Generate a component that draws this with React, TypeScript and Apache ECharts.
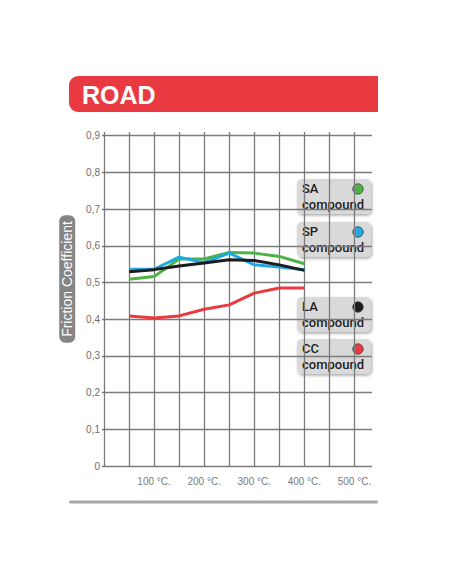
import React, { useEffect, useRef } from "react";
import * as echarts from "echarts";

const temps = [50, 100, 150, 200, 250, 300, 350, 400];
const saValues = [0.509, 0.516, 0.564, 0.564, 0.582, 0.58, 0.571, 0.551];
const spValues = [0.536, 0.536, 0.569, 0.554, 0.58, 0.548, 0.542, 0.535];
const laValues = [0.529, 0.535, 0.545, 0.553, 0.562, 0.56, 0.548, 0.533];
const ccValues = [0.409, 0.403, 0.409, 0.427, 0.439, 0.471, 0.485, 0.485];

const seriesNames = ["SA", "SP", "LA", "CC"];
const seriesColors = ["#4db244", "#1ea8e4", "#1c1c1c", "#e83a3f"];
const yTickLabels = ["0", "0,1", "0,2", "0,3", "0,4", "0,5", "0,6", "0,7", "0,8", "0,9"];
const xUnit = "°C.";
const titleText = "ROAD";
const yAxisTitle = "Friction Coefficient";
const legendSub = "compound";

const FONT = "'Liberation Sans', Arial, Helvetica, sans-serif";
const LEGEND_FONT = "Roboto, 'Liberation Sans', Arial, sans-serif";

export default function App() {
  const ref = useRef<HTMLDivElement>(null);

  useEffect(() => {
    if (!ref.current) return;
    const chart = echarts.init(ref.current, undefined, { renderer: "svg" });
    const allValues = [saValues, spValues, laValues, ccValues];
    const gridColor = "#7b7b7b";

    const legendTops = [179, 222, 297, 339];
    const legendGraphics = seriesNames.map((name, i) => ({
      type: "group",
      x: 297,
      y: legendTops[i],
      children: [
        {
          type: "rect",
          shape: { x: 0, y: 0, width: 74, height: 35, r: 5 },
          style: {
            fill: "#d9d9d9",
            shadowBlur: 3,
            shadowOffsetX: 1,
            shadowOffsetY: 1.5,
            shadowColor: "rgba(0,0,0,0.35)",
          },
        },
        {
          type: "text",
          x: 5,
          y: 9.5,
          style: {
            text: name,
            fill: "#1e1e1e",
            font: `500 13px ${LEGEND_FONT}`,
            verticalAlign: "middle",
            align: "left",
          },
        },
        {
          type: "text",
          x: 5,
          y: 25,
          style: {
            text: legendSub,
            fill: "#1e1e1e",
            font: `500 13px ${LEGEND_FONT}`,
            verticalAlign: "middle",
            align: "left",
          },
        },
        {
          type: "circle",
          shape: { cx: 61, cy: 10, r: 5.2 },
          style: { fill: seriesColors[i], stroke: "#3a3a3a", lineWidth: 0.8 },
        },
      ],
    }));

    chart.setOption({
      animation: false,
      textStyle: { fontFamily: FONT },
      grid: { left: 104, top: 132, width: 268, height: 334, containLabel: false },
      xAxis: {
        type: "value",
        min: 0,
        max: 535,
        interval: 50,
        axisLine: { show: false },
        axisTick: { show: false },
        splitLine: {
          show: true,
          showMaxLine: false,
          showMinLine: true,
          lineStyle: { color: gridColor, width: 1.3 },
        },
        axisLabel: {
          showMaxLabel: false,
          margin: 10,
          color: "#7a7a7a",
          fontSize: 10,
          formatter: (v: number) => (v > 0 && v % 100 === 0 ? `${v} ${xUnit}` : ""),
        },
      },
      yAxis: {
        type: "value",
        min: 0,
        max: 0.91,
        interval: 0.1,
        axisLine: { show: false },
        axisTick: { show: true, length: 2, lineStyle: { color: gridColor, width: 1.3 } },
        splitLine: {
          show: true,
          showMaxLine: false,
          lineStyle: { color: gridColor, width: 1.3 },
        },
        axisLabel: {
          showMaxLabel: false,
          margin: 4,
          color: "#6e6e6e",
          fontSize: 10,
          formatter: (v: number) => yTickLabels[Math.round(v * 10)] ?? "",
        },
        name: `{s| }{a|${yAxisTitle}}`,
        nameLocation: "middle",
        nameRotate: 90,
        nameGap: 19,
        nameTextStyle: {
          fontSize: 14,
          rich: {
            s: { width: 40, fontSize: 14 },
            a: {
              fontSize: 14,
              fontFamily: FONT,
              color: "#ffffff",
              backgroundColor: "#858585",
              borderRadius: 6,
              padding: [1, 6, 1, 6],
              lineHeight: 16,
            },
          },
        },
      },
      series: seriesNames.map((name, i) => ({
        name,
        type: "line",
        data: temps.map((t, j) => [t, allValues[i][j]]),
        symbol: "none",
        lineStyle: { color: seriesColors[i], width: 3 },
        z: 2 + i,
      })),
      graphic: [
        {
          type: "rect",
          shape: { x: 69, y: 76, width: 309, height: 36, r: [9, 0, 0, 9] },
          style: { fill: "#e93a42" },
        },
        {
          type: "text",
          x: 82,
          y: 95,
          style: {
            text: titleText,
            fill: "#ffffff",
            font: `bold 25px ${FONT}`,
            verticalAlign: "middle",
          },
        },
        {
          type: "rect",
          shape: { x: 69, y: 500.5, width: 309, height: 3, r: 1.5 },
          style: { fill: "#a8a8a8" },
        },
        ...legendGraphics,
      ],
    });

    return () => chart.dispose();
  }, []);

  return (
    <div
      ref={ref}
      style={{ position: "absolute", left: 0, top: 0, width: 452, height: 584, background: "#ffffff" }}
    />
  );
}
